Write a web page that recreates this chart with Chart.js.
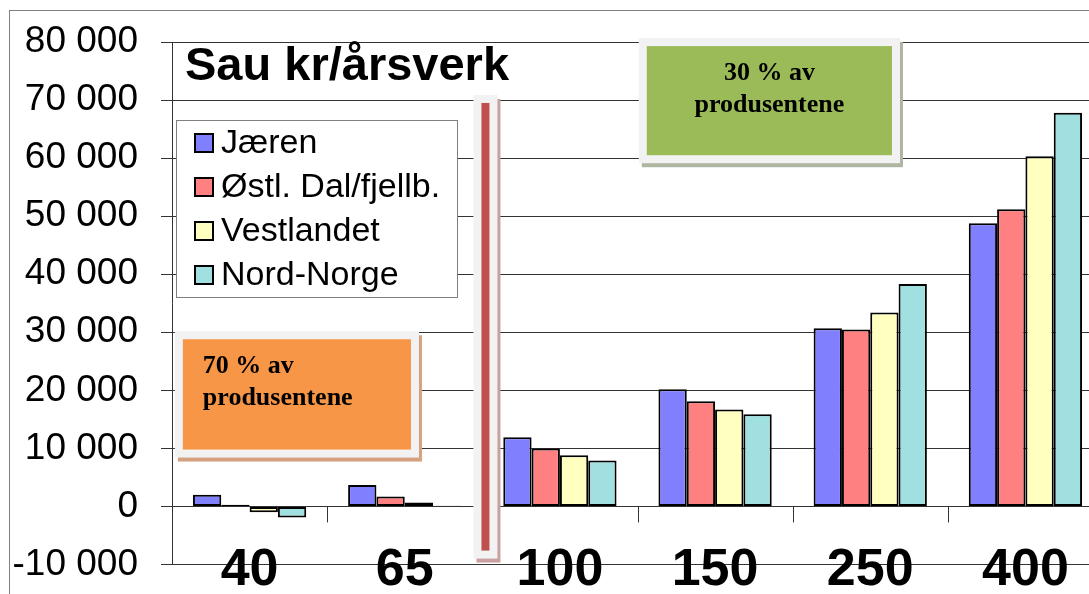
<!DOCTYPE html>
<html>
<head>
<meta charset="utf-8">
<script src="https://cdn.jsdelivr.net/npm/chart.js@4"></script>
<style>
  html, body { margin: 0; padding: 0; background: #fff; overflow: hidden; }
  #wrap { position: relative; width: 1089px; height: 594px; overflow: hidden; }
  canvas { position: absolute; left: 0; top: 0; }
</style>
</head>
<body>
<div id="wrap"><canvas id="myChart" width="1110" height="606"></canvas></div>
<script>
// data
const categories = ['40', '65', '100', '150', '250', '400'];
const jaeren = [2000, 3700, 11900, 20200, 30700, 48800];
const ostlDal = [300, 1700, 10000, 18100, 30500, 51200];
const vestlandet = [-1000, 700, 8800, 16700, 33400, 60300];
const nordNorge = [-1900, 100, 7900, 15900, 38300, 67800];
const seriesNames = ['Jæren', 'Østl. Dal/fjellb.', 'Vestlandet', 'Nord-Norge'];
const seriesColors = ['#8080ff', '#ff8080', '#ffffc0', '#a0e0e0'];

// note boxes, in axis units (category index / kr)
const notes = [
    { x0: -0.43, x1: 1.04, y0: 28800, y1: 9800, fill: '#f79646', shadow: '#d4a27f',
      lines: ['70 % av', 'produsentene'], align: 'left' },
    { x0: 2.56, x1: 4.14, y0: 79300, y1: 60500, fill: '#9bbb59', shadow: '#aeb5a0',
      lines: ['30 % av', 'produsentene'], align: 'center' }
];

Chart.defaults.font.family = "'Liberation Sans', Arial, sans-serif";
Chart.defaults.color = '#000';

function spaced(v) {
    return String(v).replace(/\B(?=(\d{3})+(?!\d))/g, ' ');
}

function framedBox(ctx, l, t, r, b, fill, shadow) {
    const pad = 8;
    ctx.fillStyle = shadow;
    ctx.fillRect(l - pad + 3, t - pad + 4, r - l + 2 * pad, b - t + 2 * pad);
    ctx.fillStyle = '#f2f2f2';
    ctx.fillRect(l - pad, t - pad, r - l + 2 * pad, b - t + 2 * pad);
    ctx.fillStyle = fill;
    ctx.fillRect(l, t, r - l, b - t);
}

const overlay = {
    id: 'overlay',
    beforeDraw(chart) {
        const ctx = chart.ctx;
        ctx.save();
        ctx.fillStyle = '#fff';
        ctx.fillRect(0, 0, chart.width, chart.height);
        ctx.strokeStyle = '#808080';
        ctx.lineWidth = 1;
        ctx.strokeRect(9.5, 10.5, chart.width + 40, chart.height + 40);
        ctx.restore();
    },
    afterDatasetsDraw(chart) {
        const ctx = chart.ctx;
        const x = chart.scales.x;
        const y = chart.scales.y;
        const zero = y.getPixelForValue(0);
        ctx.save();

        // category tick marks on the zero line
        ctx.strokeStyle = '#333';
        ctx.lineWidth = 1;
        for (let i = 1; i <= categories.length; i++) {
            const px = Math.round(x.getPixelForValue(i - 0.5)) + 0.5;
            ctx.beginPath();
            ctx.moveTo(px, zero);
            ctx.lineTo(px, zero + 16);
            ctx.stroke();
        }

        // note boxes
        notes.forEach(n => {
            const l = x.getPixelForValue(n.x0), r = x.getPixelForValue(n.x1);
            const t = y.getPixelForValue(n.y0), b = y.getPixelForValue(n.y1);
            framedBox(ctx, l, t, r, b, n.fill, n.shadow);
            ctx.fillStyle = '#000';
            ctx.font = "bold 26px 'Liberation Serif', 'Times New Roman', serif";
            ctx.textBaseline = 'middle';
            ctx.textAlign = n.align;
            const tx = n.align === 'left' ? l + 20 : (l + r) / 2;
            n.lines.forEach((s, k) => ctx.fillText(s, tx, t + 27 + k * 32));
        });

        // red divider between 65 and 100
        const cx = x.getPixelForValue(1.52);
        framedBox(ctx, cx - 4, y.getPixelForValue(69500), cx + 4, y.getPixelForValue(-7600), '#c0504d', '#c9a0a0');

        // legend
        ctx.fillStyle = '#fff';
        ctx.fillRect(176, 120, 281, 177);
        ctx.strokeStyle = '#808080';
        ctx.strokeRect(176.5, 120.5, 281, 177);
        ctx.font = "34px 'Liberation Sans', Arial, sans-serif";
        ctx.textAlign = 'left';
        ctx.textBaseline = 'middle';
        seriesNames.forEach((name, k) => {
            const cy = 143 + k * 44;
            ctx.fillStyle = seriesColors[k];
            ctx.fillRect(195, cy - 9, 18, 18);
            ctx.strokeStyle = '#000';
            ctx.lineWidth = 2;
            ctx.strokeRect(195, cy - 9, 18, 18);
            ctx.fillStyle = '#000';
            ctx.fillText(name, 221, cy + 1);
        });

        // title
        ctx.font = "bold 47px 'Liberation Sans', Arial, sans-serif";
        ctx.textBaseline = 'alphabetic';
        ctx.fillText('Sau kr/årsverk', 185, 80);
        ctx.restore();
    }
};

const ctx = document.getElementById('myChart');

new Chart(ctx, {
    type: 'bar',
    data: {
        labels: categories,
        datasets: [jaeren, ostlDal, vestlandet, nordNorge].map((d, i) => ({
            label: seriesNames[i],
            data: d,
            backgroundColor: seriesColors[i],
            borderColor: '#000',
            borderWidth: 2,
            borderSkipped: false,
            categoryPercentage: 0.73,
            barPercentage: 1
        }))
    },
    options: {
        responsive: false,
        animation: false,
        layout: {
            padding: { top: 42, right: 7, bottom: 0, left: 0 }
        },
        plugins: {
            legend: { display: false },
            tooltip: { enabled: false }
        },
        scales: {
            x: {
                grid: { display: false },
                border: { display: false },
                // let the big labels run past the axis box instead of clipping them
                afterFit(scale) { scale._computeLabelArea = () => undefined; },
                ticks: {
                    font: { size: 52, weight: 'bold', lineHeight: 1 },
                    padding: -28,
                    maxRotation: 0
                }
            },
            y: {
                min: -10000,
                max: 80000,
                afterFit(scale) { scale.width = 172; },
                grid: { color: '#333', lineWidth: 1, tickLength: 11, tickColor: '#333' },
                border: { display: true, color: '#333', width: 1 },
                ticks: {
                    stepSize: 10000,
                    padding: 23,
                    font: { size: 37, lineHeight: 1 },
                    callback: v => spaced(v)
                }
            }
        }
    },
    plugins: [overlay]
});
</script>
</body>
</html>
